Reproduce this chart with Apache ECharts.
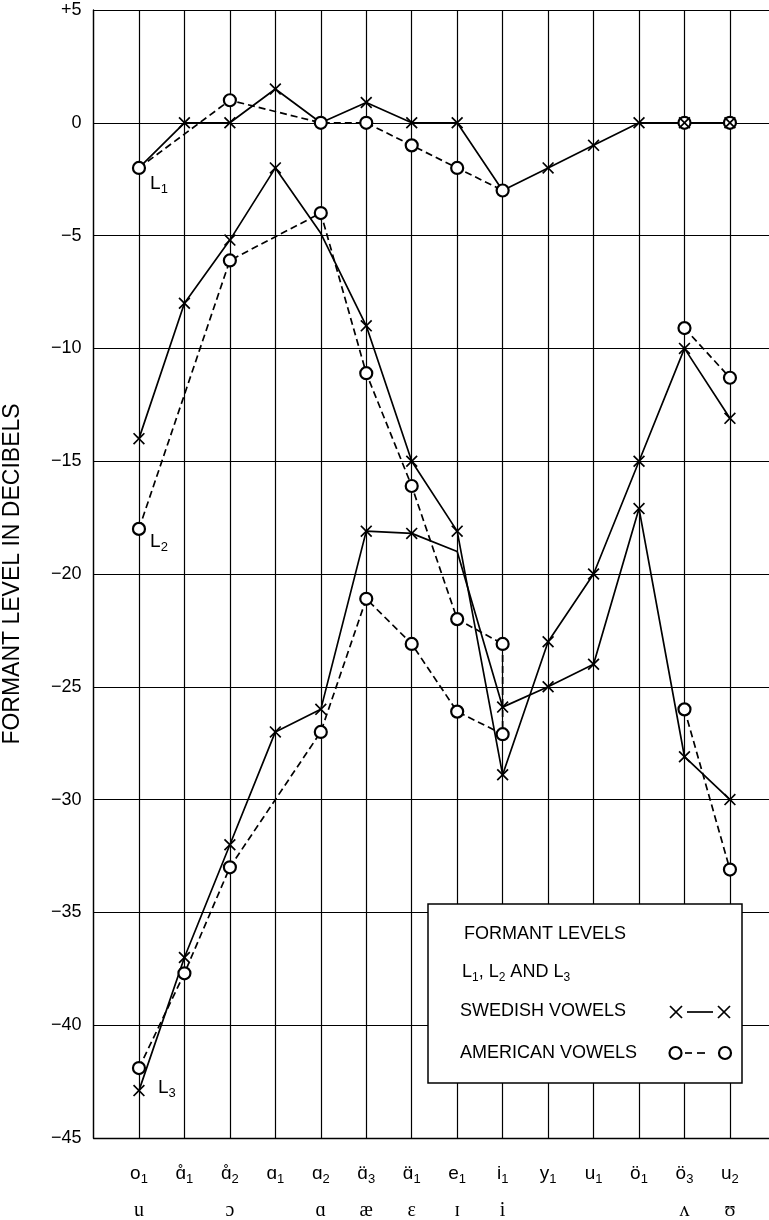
<!DOCTYPE html>
<html><head><meta charset="utf-8">
<script src="https://cdn.jsdelivr.net/npm/echarts@6/dist/echarts.min.js"></script>
<style>html,body{margin:0;padding:0;background:#fff}#c{width:769px;height:1220px}</style>
</head><body><div id="c"></div>
<script>
// ---- data ----
const vowels     = ['o','ɑ̊','ɑ̊','ɑ','ɑ','ɑ̈','ɑ̈','e','i','y','u','ö','ö','u'];
const vowelSub   = ['1','1','2','1','2','3','1','1','1','1','1','1','3','2'];
const ipaSymbols = ['u','','ɔ','','ɑ','æ','ɛ','ɪ','i','','','','ʌ','ʊ'];

const swedishL1 = [-2, 0, 0, 1.5, 0, 0.9, 0, 0, -3, -2, -1, 0, 0, 0];
const swedishL2 = [-14, -8, -5.2, -2, -4.9, -9, -15, -18.1, -28.9, -23, -20, -15, -10, -13.1];
const swedishL3 = [-42.9, -37, -32, -27, -26, -18.1, -18.2, -19, -25.9, -25, -24, -17.1, -28.1, -30];

const americanL1 = [-2, null, 1, null, 0, 0, -1, -2, -3, null, null, null, 0, 0];
const americanL2 = [-18, null, -6.1, null, -4, -11.1, -16.1, -22, -23.1, null, null, null, -9.1, -11.3];
const americanL3 = [-41.9, -37.7, -33, null, -27, -21.1, -23.1, -26.1, -27.1, null, null, null, -26, -33.1];

// American curves are interrupted between i1 and ö3
const americanLastOfFirstPart = 8;
// Swedish points whose marker is not drawn in the original
const swedishHidden = [[0, 4, 8], [4], [7]];
// American i1: L2 and L3 joined by a dashed stroke
const americanLinkIndex = 8;

const yMin = -45, yMax = 5, yStep = 5;

// ---- build ----
const FONT = '"Liberation Sans", Arial, sans-serif';
const SERIF = '"Liberation Serif", "Times New Roman", serif';
const XPATH = 'path://M0,10L10,0L50,40L90,0L100,10L60,50L100,90L90,100L50,60L10,100L0,90L40,50Z';

function pts(arr, from, to) {
  const out = [];
  for (let i = from; i <= to; i++) if (arr[i] !== null) out.push([i, arr[i]]);
  return out;
}
const labelRich = {
  L: {fontSize: 19, fontFamily: FONT, color: '#000', lineHeight: 19, verticalAlign: 'top'},
  s: {fontSize: 13, fontFamily: FONT, color: '#000', lineHeight: 13, padding: [9, 0, 0, 0], verticalAlign: 'top'}
};

const swedish = [swedishL1, swedishL2, swedishL3];
const american = [americanL1, americanL2, americanL3];
const series = [];
const solid = {color: '#000', width: 1.7, type: 'solid'};
const dashed = {color: '#000', width: 1.7, type: [7, 4]};

swedish.forEach(function (arr) {
  series.push({type: 'line', data: pts(arr, 0, arr.length - 1), showSymbol: false, symbol: 'none',
    lineStyle: solid, z: 2, silent: true, animation: false});
});
american.forEach(function (arr) {
  series.push({type: 'line', data: pts(arr, 0, americanLastOfFirstPart), symbol: 'none',
    lineStyle: dashed, z: 2, silent: true, animation: false});
  series.push({type: 'line', data: pts(arr, americanLastOfFirstPart + 1, arr.length - 1), symbol: 'none',
    lineStyle: dashed, z: 2, silent: true, animation: false});
});
series.push({type: 'line', symbol: 'none', lineStyle: dashed, z: 2, silent: true, animation: false,
  data: [[americanLinkIndex, americanL2[americanLinkIndex]], [americanLinkIndex, americanL3[americanLinkIndex]]]});

// American circles
const circleData = [];
american.forEach(function (arr, k) {
  arr.forEach(function (v, i) {
    if (v === null) return;
    const item = {value: [i, v]};
    if (i === 0 && k < 2) {
      item.label = {show: true, position: 'right', distance: 4, offset: [0, k === 0 ? 16 : 13],
        formatter: '{L|L}{s|' + (k + 1) + '}', rich: labelRich};
    }
    circleData.push(item);
  });
});
series.push({type: 'scatter', data: circleData, symbol: 'circle', symbolSize: 12, z: 3, silent: true, animation: false,
  itemStyle: {color: '#fff', borderColor: '#000', borderWidth: 2.2, opacity: 1}});

// Swedish crosses
const crossData = [];
swedish.forEach(function (arr, k) {
  arr.forEach(function (v, i) {
    if (v === null || swedishHidden[k].indexOf(i) >= 0) return;
    const item = {value: [i, v]};
    if (i === 0 && k === 2) {
      item.label = {show: true, position: 'right', distance: 13, offset: [0, -3],
        formatter: '{L|L}{s|3}', rich: labelRich};
    }
    crossData.push(item);
  });
});
series.push({type: 'scatter', data: crossData, symbol: XPATH, symbolSize: 12, z: 4, silent: true, animation: false,
  itemStyle: {color: '#000', opacity: 1}});

const option = {
  animation: false,
  backgroundColor: '#fff',
  grid: {left: 93.5, right: -6.4, top: 10, bottom: 82, containLabel: false, outerBoundsMode: 'none'},
  xAxis: {
    type: 'value', min: -1, max: 14, interval: 1,
    axisLine: {onZero: false, lineStyle: {color: '#000', width: 1.3}},
    axisTick: {show: false},
    splitLine: {show: true, lineStyle: {color: '#000', width: 1.2}},
    axisLabel: {
      margin: 26, color: '#000', fontFamily: FONT, hideOverlap: false,
      formatter: function (v) {
        if (v < 0 || v >= vowels.length || v !== Math.round(v)) return '';
        let s = '{m|' + vowels[v] + '}{s|' + vowelSub[v] + '}';
        if (ipaSymbols[v]) s += '\n{p|' + ipaSymbols[v] + '}';
        return s;
      },
      rich: {
        m: {fontSize: 19, fontFamily: FONT, color: '#000', lineHeight: 19, verticalAlign: 'top'},
        s: {fontSize: 13, fontFamily: FONT, color: '#000', lineHeight: 13, padding: [9, 0, 0, 0], verticalAlign: 'top'},
        p: {fontSize: 20, fontFamily: SERIF, color: '#000', lineHeight: 20, padding: [36, 0, 0, 0]}
      }
    }
  },
  yAxis: {
    type: 'value', min: yMin, max: yMax, interval: yStep,
    name: 'FORMANT LEVEL IN DECIBELS', nameLocation: 'middle', nameGap: 69, nameRotate: 90,
    nameTextStyle: {fontSize: 23, fontFamily: FONT, color: '#000'},
    axisLine: {onZero: false, lineStyle: {color: '#000', width: 1.3}},
    axisTick: {show: false},
    splitLine: {show: true, lineStyle: {color: '#000', width: 1.2}},
    axisLabel: {
      margin: 12, fontSize: 18, fontFamily: FONT, color: '#000',
      formatter: function (v) { return v > 0 ? '+' + v : (v < 0 ? '\u2212' + Math.abs(v) : '0'); }
    }
  },
  series: series,
  graphic: [
    {type: 'rect', shape: {x: 428, y: 904, width: 314, height: 179}, style: {fill: '#fff', stroke: '#000', lineWidth: 1.5}, z: 100},
    {type: 'text', x: 464, y: 934, z: 101, style: {text: 'FORMANT LEVELS', fontSize: 18, fontFamily: FONT, fill: '#000', verticalAlign: 'middle'}},
    {type: 'text', x: 462, y: 972, z: 101, style: {text: '{a|L}{b|1}{a|, L}{b|2}{a| AND L}{b|3}', verticalAlign: 'middle',
      rich: {a: {fontSize: 18, fontFamily: FONT, fill: '#000', lineHeight: 18, verticalAlign: 'top'},
             b: {fontSize: 12, fontFamily: FONT, fill: '#000', lineHeight: 12, padding: [9, 0, 0, 0], verticalAlign: 'top'}}}},
    {type: 'text', x: 460, y: 1011, z: 101, style: {text: 'SWEDISH VOWELS', fontSize: 18, fontFamily: FONT, fill: '#000', verticalAlign: 'middle'}},
    {type: 'text', x: 460, y: 1053, z: 101, style: {text: 'AMERICAN VOWELS', fontSize: 18, fontFamily: FONT, fill: '#000', verticalAlign: 'middle'}},
    {type: 'line', z: 101, shape: {x1: 670, y1: 1006, x2: 682, y2: 1018}, style: {stroke: '#000', lineWidth: 1.7}},
    {type: 'line', z: 101, shape: {x1: 670, y1: 1018, x2: 682, y2: 1006}, style: {stroke: '#000', lineWidth: 1.7}},
    {type: 'line', z: 101, shape: {x1: 687, y1: 1012, x2: 713, y2: 1012}, style: {stroke: '#000', lineWidth: 1.7}},
    {type: 'line', z: 101, shape: {x1: 718, y1: 1006, x2: 730, y2: 1018}, style: {stroke: '#000', lineWidth: 1.7}},
    {type: 'line', z: 101, shape: {x1: 718, y1: 1018, x2: 730, y2: 1006}, style: {stroke: '#000', lineWidth: 1.7}},
    {type: 'circle', z: 101, shape: {cx: 675.5, cy: 1053, r: 6}, style: {fill: '#fff', stroke: '#000', lineWidth: 2.2}},
    {type: 'line', z: 101, shape: {x1: 685, y1: 1053, x2: 692, y2: 1053}, style: {stroke: '#000', lineWidth: 1.7}},
    {type: 'line', z: 101, shape: {x1: 697, y1: 1053, x2: 705, y2: 1053}, style: {stroke: '#000', lineWidth: 1.7}},
    {type: 'circle', z: 101, shape: {cx: 725, cy: 1053, r: 6}, style: {fill: '#fff', stroke: '#000', lineWidth: 2.2}}
  ]
};
const chart = echarts.init(document.getElementById('c'), null, {renderer: 'canvas'});
chart.setOption(option);
</script></body></html>
